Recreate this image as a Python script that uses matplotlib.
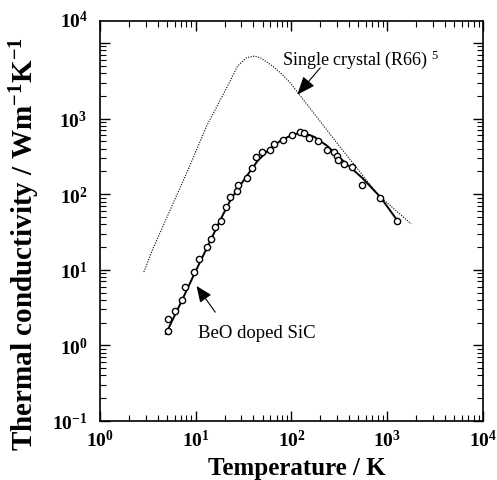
import numpy as np
import matplotlib
matplotlib.use("Agg")
import matplotlib.pyplot as plt
from matplotlib.ticker import LogLocator, NullFormatter

# 字体：Times 风格衬线体
plt.rcParams["font.family"] = ["Liberation Serif", "DejaVu Serif"]
plt.rcParams["mathtext.fontset"] = "custom"
plt.rcParams["mathtext.rm"] = "Liberation Serif"
plt.rcParams["mathtext.it"] = "Liberation Serif:italic"
plt.rcParams["mathtext.bf"] = "Liberation Serif:bold"

# 单晶 (R66) 曲线
sc_T = [2.87, 3.56, 8.66, 13.0, 22.6, 27.4, 34.0, 41.2, 48.0, 63.4, 79.0,
        95.3, 316, 826, 1778]
sc_k = [9.35, 18.8, 236, 798, 3050, 4970, 6400, 6730, 6300, 4970, 3900,
        3050, 434, 94.6, 40.4]

# BeO 掺杂 SiC 测量点
beo_T = [5.11, 5.11, 6.04, 7.15, 7.68, 9.53, 10.7, 13.0, 14.3, 15.8, 18.2,
         20.5, 22.6, 26.7, 27.4, 34.0, 38.3, 42.2, 48.7, 59.0, 64.9, 82.5,
         102, 124, 136, 154, 191, 237, 281, 301, 309, 356, 432, 549, 845, 1271]
beo_k = [1.55, 2.23, 2.85, 3.99, 5.92, 9.35, 13.9, 20.0, 25.5, 36.8, 44.2,
         67.8, 91.9, 110, 132, 164, 222, 311, 362, 384, 462, 521,
         607, 665, 645, 554, 505, 384, 362, 320, 283, 251, 229, 132, 89.1, 44.2]

# 拟合实线
fit_T = [4.87, 6.81, 9.77, 14.0, 18.7, 23.7, 32.4, 44.2, 59.0, 78.7, 107,
         136, 174, 237, 356, 549, 845, 1334]
fit_k = [1.42, 3.42, 9.08, 23.3, 49.9, 89.1, 159, 275, 397, 521, 625,
         645, 571, 434, 267, 164, 91.9, 41.6]

x_ticks = [1, 10, 100, 1000, 10000]
x_labels = [r"$\mathbf{10^{0}}$", r"$\mathbf{10^{1}}$", r"$\mathbf{10^{2}}$",
            r"$\mathbf{10^{3}}$", r"$\mathbf{10^{4}}$"]
y_ticks = [0.1, 1, 10, 100, 1000, 10000]
y_labels = [r"$\mathbf{10^{-1}}$", r"$\mathbf{10^{0}}$", r"$\mathbf{10^{1}}$",
            r"$\mathbf{10^{2}}$", r"$\mathbf{10^{3}}$", ""]
y_top_label = r"$\mathbf{10^{4}}$"

fig = plt.figure(figsize=(4.97, 4.81), dpi=100)
ax = fig.add_axes([0.2012, 0.1227, 0.7706, 0.8316])

ax.plot(sc_T, sc_k, color="k", lw=0.8, ls=(0, (1, 1.3)))
ax.plot(fit_T, fit_k, color="k", lw=1.4)
ax.plot(beo_T, beo_k, "o", mfc="white", mec="k", ms=4.5, mew=1.0)

ax.set_xscale("log")
ax.set_yscale("log")
ax.set_xlim(1, 1e4)
ax.set_ylim(0.1, 1.955e4)

ax.set_xticks(x_ticks)
ax.set_xticklabels(x_labels)
ax.set_yticks(y_ticks)
ax.set_yticklabels(y_labels)
for a in (ax.xaxis, ax.yaxis):
    a.set_minor_locator(LogLocator(base=10, subs=np.arange(2, 10), numticks=20))
    a.set_minor_formatter(NullFormatter())
ax.tick_params(which="both", direction="in", top=True, right=True)
ax.tick_params(which="major", length=7, width=1.0, labelsize=14)
ax.tick_params(axis="x", pad=6)
ax.tick_params(axis="y", pad=9)
ax.tick_params(which="minor", length=4, width=0.8)
for s in ax.spines.values():
    s.set_linewidth(1.2)

# 顶部的 10^4 标签（原图印在坐标框顶端）
ax.text(-0.031, 1.0, y_top_label, transform=ax.transAxes, ha="right",
        va="center", fontsize=14)

ax.set_xlabel("Temperature / K", fontsize=18, fontweight="bold")
ax.set_ylabel(r"Thermal conductivity / Wm$^{\mathbf{-1}}$K$^{\mathbf{-1}}$",
              fontsize=21, fontweight="bold")
ax.xaxis.set_label_coords(0.515, -0.088)
ax.yaxis.set_label_coords(-0.152, 0.445)

# 注释
ax.text(78.7, 5270, r"Single crystal (R66) $^{5}$", fontsize=13, va="baseline")
ax.annotate("", xy=(115, 2070), xytext=(200, 4700),
            arrowprops=dict(arrowstyle="-|>,head_length=0.8,head_width=0.32",
                            color="k", lw=0.8, mutation_scale=14,
                            shrinkA=0, shrinkB=0))
ax.text(10.5, 1.29, "BeO doped SiC", fontsize=13.5, va="baseline")
ax.annotate("", xy=(10.2, 6.1), xytext=(16.0, 2.75),
            arrowprops=dict(arrowstyle="-|>,head_length=0.7,head_width=0.3",
                            color="k", lw=0.8, mutation_scale=14,
                            shrinkA=0, shrinkB=0))

fig.savefig("out.png", dpi=100)
